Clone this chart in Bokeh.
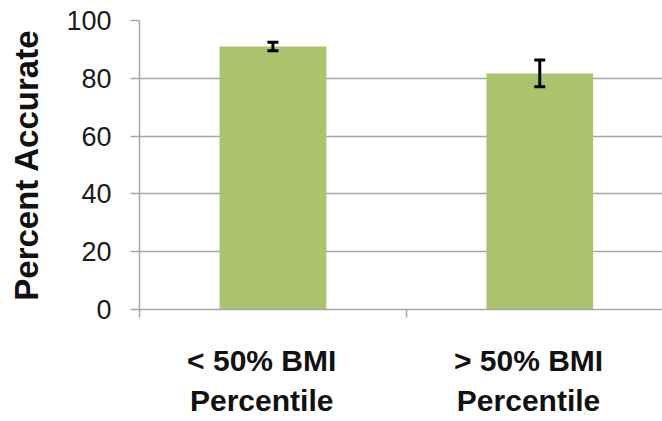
from bokeh.plotting import figure
from bokeh.models import ColumnDataSource, Whisker, FixedTicker, Range1d
from bokeh.embed import file_html
from bokeh.resources import INLINE

categories = ["< 50% BMI\nPercentile", "> 50% BMI\nPercentile"]
positions = [0.5, 1.5]
values = [91.0, 81.7]
errors = [1.5, 4.6]
y_ticks = [0, 20, 40, 60, 80, 100]

LABEL_SHIFT = -0.042
label_ticks = [x + LABEL_SHIFT for x in positions]

src = ColumnDataSource(dict(
    x=positions, top=values,
    upper=[v + e for v, e in zip(values, errors)],
    lower=[v - e for v, e in zip(values, errors)],
))

p = figure(width=662, height=421, output_backend="svg", toolbar_location=None,
           x_range=Range1d(0, 1.96), y_range=Range1d(0, 100),
           min_border_left=139, min_border_top=20, min_border_right=0,
           min_border_bottom=112)
p.outline_line_color = None
p.background_fill_color = "white"
p.border_fill_color = "white"

p.vbar(x="x", top="top", width=0.4, source=src, fill_color="#a9c46c", line_color=None)

w = Whisker(base="x", upper="upper", lower="lower", source=src,
            line_color="black", line_width=3, level="overlay")
for h in (w.upper_head, w.lower_head):
    h.size = 11
    h.line_width = 3
    h.line_color = "black"
p.add_layout(w)

grid_col = "#a6a6a6"
# y axis
yax = p.yaxis[0]
yax.ticker = FixedTicker(ticks=y_ticks)
yax.axis_line_color = grid_col
yax.axis_line_width = 1.5
yax.major_tick_line_color = grid_col
yax.major_tick_line_width = 1.5
yax.major_tick_out = 9
yax.major_tick_in = 0
yax.minor_tick_line_color = None
yax.major_label_text_font = "Liberation Sans"
yax.major_label_text_font_size = "27px"
yax.major_label_text_color = "#1a1a1a"
yax.major_label_standoff = 19
yax.axis_label = "Percent Accurate"
yax.axis_label_text_font = "Liberation Sans"
yax.axis_label_text_font_style = "bold"
yax.axis_label_text_font_size = "33px"
yax.axis_label_text_color = "#111111"
yax.axis_label_standoff = 18

# x axis
xax = p.xaxis[0]
xax.ticker = FixedTicker(ticks=label_ticks, minor_ticks=[0, 1, 2])
xax.major_label_overrides = {t: lab for t, lab in zip(label_ticks, categories)}
xax.axis_line_color = grid_col
xax.axis_line_width = 1.5
xax.major_tick_line_color = None
xax.major_tick_out = 0
xax.major_tick_in = 0
xax.minor_tick_line_color = grid_col
xax.minor_tick_line_width = 1.5
xax.minor_tick_out = 8
xax.minor_tick_in = 0
xax.major_label_text_font = "Liberation Sans"
xax.major_label_text_font_style = "bold"
xax.major_label_text_font_size = "30px"
xax.major_label_text_color = "#111111"
xax.major_label_text_line_height = 1.22
xax.major_label_standoff = 26

p.xgrid.grid_line_color = None
p.ygrid.ticker = FixedTicker(ticks=y_ticks[1:])
p.ygrid.grid_line_color = grid_col
p.ygrid.grid_line_width = 1.5

open("out.html", "w").write(file_html(p, INLINE))
